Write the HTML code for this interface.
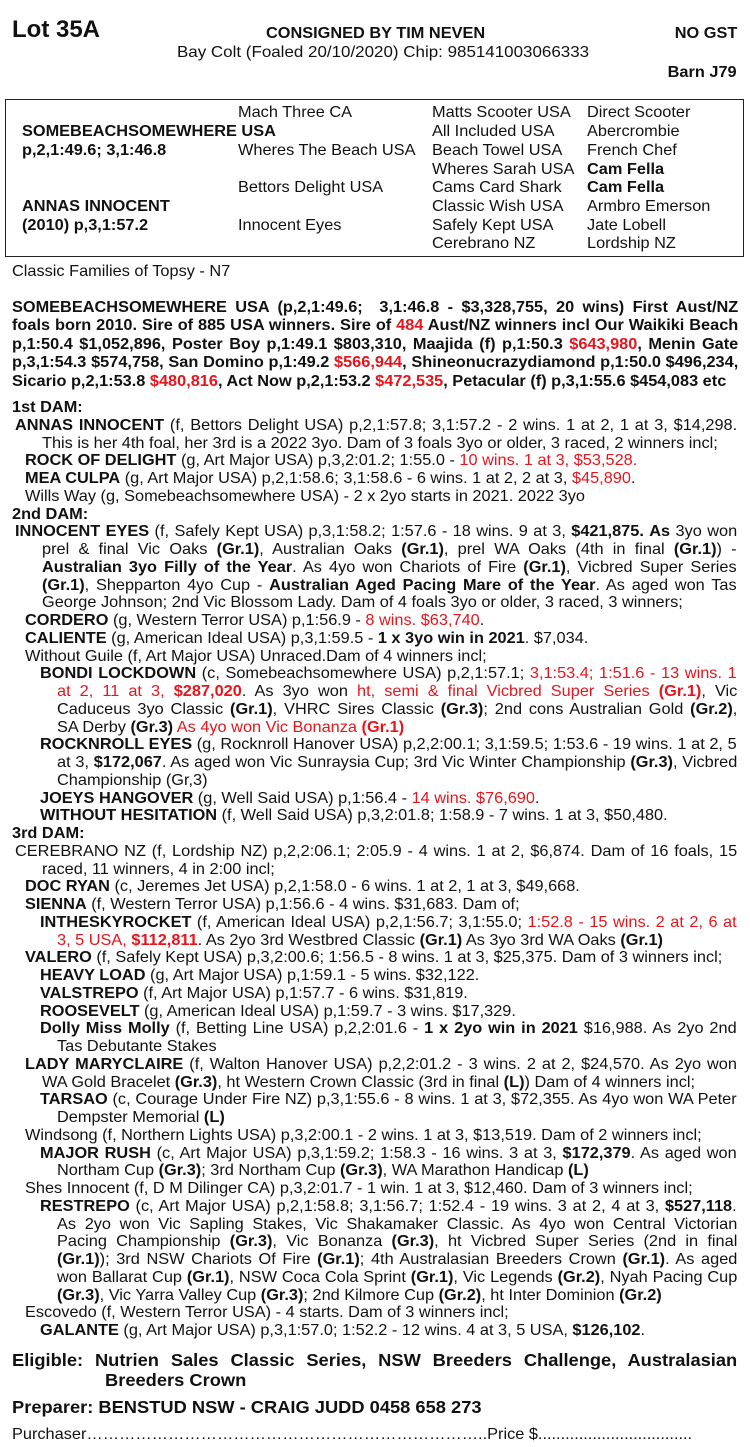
<!DOCTYPE html>
<html><head><meta charset="utf-8"><style>
body{margin:0;background:#fff;}
#p{position:relative;width:750px;height:1447px;overflow:hidden;font-family:"Liberation Sans",Arial,sans-serif;color:#111;font-size:16px;line-height:18px}
.l{position:absolute;white-space:nowrap;transform:scaleX(1.02);transform-origin:0 0}
.rt{transform-origin:100% 0}
.j{white-space:normal;text-align:justify;text-align-last:justify}
b{font-weight:bold}
.r{color:#e8141b}
.e{font-size:17.5px;line-height:20px;font-weight:bold;transform:scaleX(1.045)}
.box{position:absolute;left:5px;top:99px;width:739px;height:158px;border:1.5px solid #222;box-sizing:border-box}
</style></head><body><div id="p">
<div class="l" style="left:12px;top:16px;font-size:24px;line-height:28px;font-weight:bold;transform:none">Lot 35A</div>
<div class="l" style="left:266px;top:25px;font-weight:bold">CONSIGNED BY TIM NEVEN</div>
<div class="l rt" style="right:13px;top:25px;font-weight:bold">NO GST</div>
<div class="l" style="left:177px;top:44px;transform:scaleX(1.06)">Bay Colt (Foaled 20/10/2020) Chip: 985141003066333</div>
<div class="l rt" style="right:13px;top:64px;font-weight:bold">Barn J79</div>

<div class="box"></div>
<div class="l" style="left:238px;top:104px">Mach Three CA</div>
<div class="l" style="left:432px;top:104px">Matts Scooter USA</div>
<div class="l" style="left:587px;top:104px">Direct Scooter</div>
<div class="l" style="left:22px;top:123px;font-weight:bold">SOMEBEACHSOMEWHERE USA</div>
<div class="l" style="left:432px;top:123px">All Included USA</div>
<div class="l" style="left:587px;top:123px">Abercrombie</div>
<div class="l" style="left:22px;top:142px;font-weight:bold">p,2,1:49.6; 3,1:46.8</div>
<div class="l" style="left:238px;top:142px">Wheres The Beach USA</div>
<div class="l" style="left:432px;top:142px">Beach Towel USA</div>
<div class="l" style="left:587px;top:142px">French Chef</div>
<div class="l" style="left:432px;top:161px">Wheres Sarah USA</div>
<div class="l" style="left:587px;top:161px;font-weight:bold">Cam Fella</div>
<div class="l" style="left:238px;top:179px">Bettors Delight USA</div>
<div class="l" style="left:432px;top:179px">Cams Card Shark</div>
<div class="l" style="left:587px;top:179px;font-weight:bold">Cam Fella</div>
<div class="l" style="left:22px;top:198px;font-weight:bold">ANNAS INNOCENT</div>
<div class="l" style="left:432px;top:198px">Classic Wish USA</div>
<div class="l" style="left:587px;top:198px">Armbro Emerson</div>
<div class="l" style="left:22px;top:217px;font-weight:bold">(2010) p,3,1:57.2</div>
<div class="l" style="left:238px;top:217px">Innocent Eyes</div>
<div class="l" style="left:432px;top:217px">Safely Kept USA</div>
<div class="l" style="left:587px;top:217px">Jate Lobell</div>
<div class="l" style="left:432px;top:235px">Cerebrano NZ</div>
<div class="l" style="left:587px;top:235px">Lordship NZ</div>

<div class="l" style="left:12px;top:263px">Classic Families of Topsy - N7</div>

<div class="l j" style="left:12px;top:299px;width:712px;font-weight:bold">SOMEBEACHSOMEWHERE USA (p,2,1:49.6; &nbsp;3,1:46.8 - $3,328,755, 20 wins) First Aust/NZ</div>
<div class="l j" style="left:12px;top:317px;width:712px;font-weight:bold">foals born 2010. Sire of 885 USA winners. Sire of <span class="r">484</span> Aust/NZ winners incl Our Waikiki Beach</div>
<div class="l j" style="left:12px;top:336px;width:712px;font-weight:bold">p,1:50.4 $1,052,896, Poster Boy p,1:49.1 $803,310, Maajida (f) p,1:50.3 <span class="r">$643,980</span>, Menin Gate</div>
<div class="l j" style="left:12px;top:354px;width:712px;font-weight:bold">p,3,1:54.3 $574,758, San Domino p,1:49.2 <span class="r">$566,944</span>, Shineonucrazydiamond p,1:50.0 $496,234,</div>
<div class="l" style="left:12px;top:373px;font-weight:bold">Sicario p,2,1:53.8 <span class="r">$480,816</span>, Act Now p,2,1:53.2 <span class="r">$472,535</span>, Petacular (f) p,3,1:55.6 $454,083 etc</div>

<div class="l" style="left:12px;top:399px;font-weight:bold">1st DAM:</div>
<div class="l j" style="left:15px;top:416.75px;width:708px"><b>ANNAS INNOCENT</b> (f, Bettors Delight USA) p,2,1:57.8; 3,1:57.2 - 2 wins. 1 at 2, 1 at 3, $14,298.</div>
<div class="l" style="left:42px;top:434.5px">This is her 4th foal, her 3rd is a 2022 3yo. Dam of 3 foals 3yo or older, 3 raced, 2 winners incl;</div>
<div class="l" style="left:25px;top:452.25px"><b>ROCK OF DELIGHT</b> (g, Art Major USA) p,3,2:01.2; 1:55.0 - <span class="r">10 wins. 1 at 3, $53,528.</span></div>
<div class="l" style="left:25px;top:470px"><b>MEA CULPA</b> (g, Art Major USA) p,2,1:58.6; 3,1:58.6 - 6 wins. 1 at 2, 2 at 3, <span class="r">$45,890</span>.</div>
<div class="l" style="left:25px;top:487.75px">Wills Way (g, Somebeachsomewhere USA) - 2 x 2yo starts in 2021. 2022 3yo</div>
<div class="l" style="left:12px;top:505.5px;font-weight:bold">2nd DAM:</div>
<div class="l j" style="left:15px;top:523.25px;width:708px"><b>INNOCENT EYES</b> (f, Safely Kept USA) p,3,1:58.2; 1:57.6 - 18 wins. 9 at 3, <b>$421,875.</b> <b>As</b> 3yo won</div>
<div class="l j" style="left:42px;top:541px;width:681px">prel &amp; final Vic Oaks <b>(Gr.1)</b>, Australian Oaks <b>(Gr.1)</b>, prel WA Oaks (4th in final <b>(Gr.1)</b>) -</div>
<div class="l j" style="left:42px;top:558.75px;width:681px"><b>Australian 3yo Filly of the Year</b>. As 4yo won Chariots of Fire <b>(Gr.1)</b>, Vicbred Super Series</div>
<div class="l j" style="left:42px;top:576.5px;width:681px"><b>(Gr.1)</b>, Shepparton 4yo Cup - <b>Australian Aged Pacing Mare of the Year</b>. As aged won Tas</div>
<div class="l" style="left:42px;top:594.25px">George Johnson; 2nd Vic Blossom Lady. Dam of 4 foals 3yo or older, 3 raced, 3 winners;</div>
<div class="l" style="left:25px;top:612px"><b>CORDERO</b> (g, Western Terror USA) p,1:56.9 - <span class="r">8 wins. $63,740</span>.</div>
<div class="l" style="left:25px;top:629.75px"><b>CALIENTE</b> (g, American Ideal USA) p,3,1:59.5 - <b>1 x 3yo win in 2021</b>. $7,034.</div>
<div class="l" style="left:25px;top:647.5px">Without Guile (f, Art Major USA) Unraced.Dam of 4 winners incl;</div>
<div class="l j" style="left:40px;top:665.25px;width:683px"><b>BONDI LOCKDOWN</b> (c, Somebeachsomewhere USA) p,2,1:57.1; <span class="r">3,1:53.4; 1:51.6 - 13 wins. 1</span></div>
<div class="l j" style="left:57px;top:683px;width:667px"><span class="r">at 2, 11 at 3, <b>$287,020</b></span>. As 3yo won <span class="r">ht, semi &amp; final Vicbred Super Series <b>(Gr.1)</b></span>, Vic</div>
<div class="l j" style="left:57px;top:700.75px;width:667px">Caduceus 3yo Classic <b>(Gr.1)</b>, VHRC Sires Classic <b>(Gr.3)</b>; 2nd cons Australian Gold <b>(Gr.2)</b>,</div>
<div class="l" style="left:57px;top:718.5px">SA Derby <b>(Gr.3)</b> <span class="r">As 4yo won Vic Bonanza <b>(Gr.1)</b></span></div>
<div class="l j" style="left:40px;top:736.25px;width:683px"><b>ROCKNROLL EYES</b> (g, Rocknroll Hanover USA) p,2,2:00.1; 3,1:59.5; 1:53.6 - 19 wins. 1 at 2, 5</div>
<div class="l j" style="left:57px;top:754px;width:667px">at 3, <b>$172,067</b>. As aged won Vic Sunraysia Cup; 3rd Vic Winter Championship <b>(Gr.3)</b>, Vicbred</div>
<div class="l" style="left:57px;top:771.75px">Championship (Gr,3)</div>
<div class="l" style="left:40px;top:789.5px"><b>JOEYS HANGOVER</b> (g, Well Said USA) p,1:56.4 - <span class="r">14 wins. $76,690</span>.</div>
<div class="l" style="left:40px;top:807.25px"><b>WITHOUT HESITATION</b> (f, Well Said USA) p,3,2:01.8; 1:58.9 - 7 wins. 1 at 3, $50,480.</div>
<div class="l" style="left:12px;top:825px;font-weight:bold">3rd DAM:</div>
<div class="l j" style="left:15px;top:842.75px;width:708px">CEREBRANO NZ (f, Lordship NZ) p,2,2:06.1; 2:05.9 - 4 wins. 1 at 2, $6,874. Dam of 16 foals, 15</div>
<div class="l" style="left:42px;top:860.5px">raced, 11 winners, 4 in 2:00 incl;</div>
<div class="l" style="left:25px;top:878.25px"><b>DOC RYAN</b> (c, Jeremes Jet USA) p,2,1:58.0 - 6 wins. 1 at 2, 1 at 3, $49,668.</div>
<div class="l" style="left:25px;top:896px"><b>SIENNA</b> (f, Western Terror USA) p,1:56.6 - 4 wins. $31,683. Dam of;</div>
<div class="l j" style="left:40px;top:913.75px;width:683px"><b>INTHESKYROCKET</b> (f, American Ideal USA) p,2,1:56.7; 3,1:55.0; <span class="r">1:52.8 - 15 wins. 2 at 2, 6 at</span></div>
<div class="l" style="left:57px;top:931.5px"><span class="r">3, 5 USA, <b>$112,811</b></span>. As 2yo 3rd Westbred Classic <b>(Gr.1)</b> As 3yo 3rd WA Oaks <b>(Gr.1)</b></div>
<div class="l" style="left:25px;top:949.25px"><b>VALERO</b> (f, Safely Kept USA) p,3,2:00.6; 1:56.5 - 8 wins. 1 at 3, $25,375. Dam of 3 winners incl;</div>
<div class="l" style="left:40px;top:967px"><b>HEAVY LOAD</b> (g, Art Major USA) p,1:59.1 - 5 wins. $32,122.</div>
<div class="l" style="left:40px;top:984.75px"><b>VALSTREPO</b> (f, Art Major USA) p,1:57.7 - 6 wins. $31,819.</div>
<div class="l" style="left:40px;top:1002.5px"><b>ROOSEVELT</b> (g, American Ideal USA) p,1:59.7 - 3 wins. $17,329.</div>
<div class="l j" style="left:40px;top:1020.25px;width:683px"><b>Dolly Miss Molly</b> (f, Betting Line USA) p,2,2:01.6 - <b>1 x 2yo win in 2021</b> $16,988. As 2yo 2nd</div>
<div class="l" style="left:57px;top:1038px">Tas Debutante Stakes</div>
<div class="l j" style="left:25px;top:1055.75px;width:698px"><b>LADY MARYCLAIRE</b> (f, Walton Hanover USA) p,2,2:01.2 - 3 wins. 2 at 2, $24,570. As 2yo won</div>
<div class="l" style="left:42px;top:1073.5px">WA Gold Bracelet <b>(Gr.3)</b>, ht Western Crown Classic (3rd in final <b>(L)</b>) Dam of 4 winners incl;</div>
<div class="l j" style="left:40px;top:1091.25px;width:683px"><b>TARSAO</b> (c, Courage Under Fire NZ) p,3,1:55.6 - 8 wins. 1 at 3, $72,355. As 4yo won WA Peter</div>
<div class="l" style="left:57px;top:1109px">Dempster Memorial <b>(L)</b></div>
<div class="l" style="left:25px;top:1126.75px">Windsong (f, Northern Lights USA) p,3,2:00.1 - 2 wins. 1 at 3, $13,519. Dam of 2 winners incl;</div>
<div class="l j" style="left:40px;top:1144.5px;width:683px"><b>MAJOR RUSH</b> (c, Art Major USA) p,3,1:59.2; 1:58.3 - 16 wins. 3 at 3, <b>$172,379</b>. As aged won</div>
<div class="l" style="left:57px;top:1162.25px">Northam Cup <b>(Gr.3)</b>; 3rd Northam Cup <b>(Gr.3)</b>, WA Marathon Handicap <b>(L)</b></div>
<div class="l" style="left:25px;top:1180px">Shes Innocent (f, D M Dilinger CA) p,3,2:01.7 - 1 win. 1 at 3, $12,460. Dam of 3 winners incl;</div>
<div class="l j" style="left:40px;top:1197.75px;width:683px"><b>RESTREPO</b> (c, Art Major USA) p,2,1:58.8; 3,1:56.7; 1:52.4 - 19 wins. 3 at 2, 4 at 3, <b>$527,118</b>.</div>
<div class="l j" style="left:57px;top:1215.5px;width:667px">As 2yo won Vic Sapling Stakes, Vic Shakamaker Classic. As 4yo won Central Victorian</div>
<div class="l j" style="left:57px;top:1233.25px;width:667px">Pacing Championship <b>(Gr.3)</b>, Vic Bonanza <b>(Gr.3)</b>, ht Vicbred Super Series (2nd in final</div>
<div class="l j" style="left:57px;top:1251px;width:667px"><b>(Gr.1)</b>); 3rd NSW Chariots Of Fire <b>(Gr.1)</b>; 4th Australasian Breeders Crown <b>(Gr.1)</b>. As aged</div>
<div class="l j" style="left:57px;top:1268.75px;width:667px">won Ballarat Cup <b>(Gr.1)</b>, NSW Coca Cola Sprint <b>(Gr.1)</b>, Vic Legends <b>(Gr.2)</b>, Nyah Pacing Cup</div>
<div class="l" style="left:57px;top:1286.5px"><b>(Gr.3)</b>, Vic Yarra Valley Cup <b>(Gr.3)</b>; 2nd Kilmore Cup <b>(Gr.2)</b>, ht Inter Dominion <b>(Gr.2)</b></div>
<div class="l" style="left:25px;top:1304.25px">Escovedo (f, Western Terror USA) - 4 starts. Dam of 3 winners incl;</div>
<div class="l" style="left:40px;top:1322px"><b>GALANTE</b> (g, Art Major USA) p,3,1:57.0; 1:52.2 - 12 wins. 4 at 3, 5 USA, <b>$126,102</b>.</div>

<div class="l j e" style="left:12px;top:1350px;width:694px">Eligible: Nutrien Sales Classic Series, NSW Breeders Challenge, Australasian</div>
<div class="l e" style="left:105px;top:1370px">Breeders Crown</div>
<div class="l e" style="left:12px;top:1397px">Preparer: BENSTUD NSW - CRAIG JUDD 0458 658 273</div>
<div class="l" style="left:12px;top:1426px">Purchaser………………………………………………………………..Price $..................................</div>
</div></body></html>
